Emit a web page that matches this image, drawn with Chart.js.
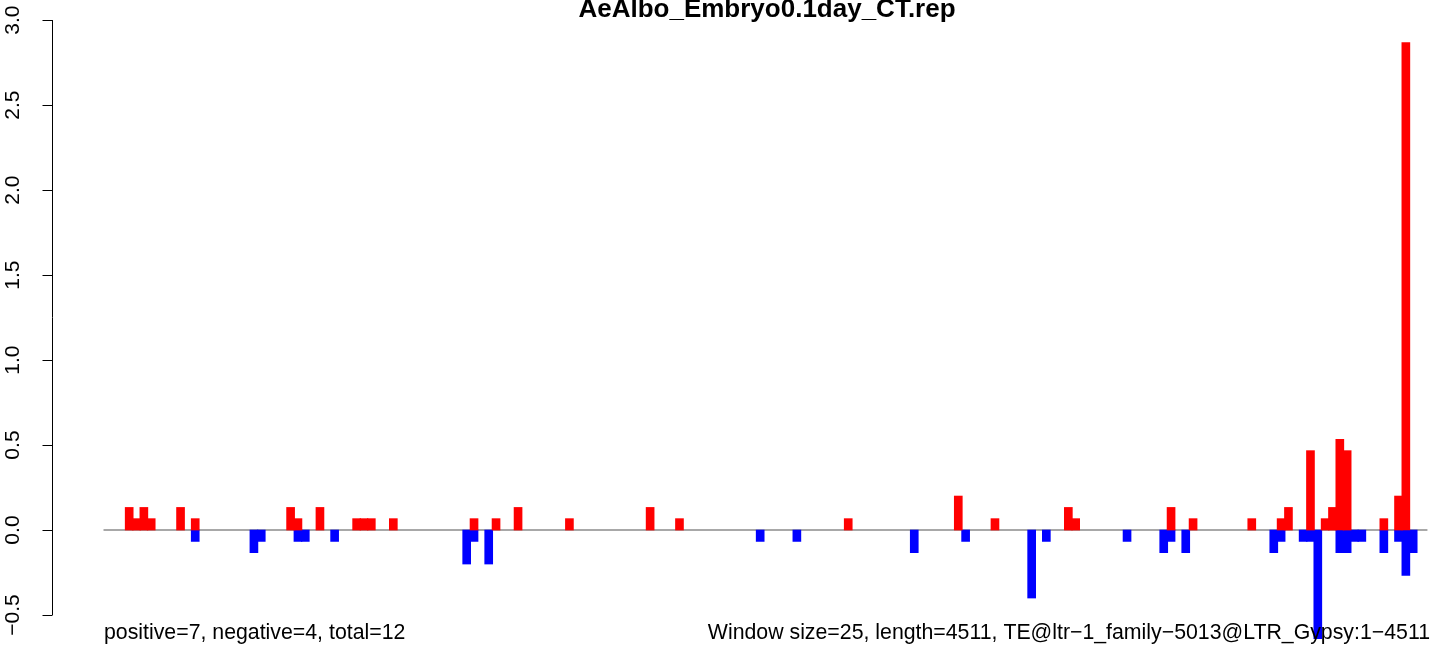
<!DOCTYPE html>
<html>
<head>
<meta charset="utf-8">
<script src="https://cdn.jsdelivr.net/npm/chart.js@4.4.1/dist/chart.umd.min.js"></script>
<style>
  html, body { margin: 0; padding: 0; background: #fff; overflow: hidden; }
  #cnv { display: block; }
</style>
</head>
<body>
<canvas id="cnv" width="1433" height="645"></canvas>
<script>
  // window data, 25bp windows over the 4511bp TE
  var windowSize = 25;
  var seqLength = 4511;
  var titleText = 'AeAlbo_Embryo0.1day_CT.rep';
  var leftNote = 'positive=7, negative=4, total=12';
  var rightNote = 'Window size=25, length=4511, TE@ltr\u22121_family\u22125013@LTR_Gypsy:1\u22124511';
  var yTicks = [-0.5, 0, 0.5, 1.0, 1.5, 2.0, 2.5, 3.0];

  // positive strand (red)
  var posBins = [3, 4, 5, 6, 10, 12, 25, 26, 29, 34, 35, 36, 39, 50, 53, 56, 63, 74, 78, 101,
    116, 121, 131, 132, 145, 148, 156, 160, 161, 164, 166, 167, 168, 169, 174, 176, 177];
  var posValues = [0.133, 0.067, 0.133, 0.067, 0.133, 0.067, 0.133, 0.067, 0.133, 0.067, 0.067, 0.067, 0.067, 0.067, 0.067, 0.133, 0.067, 0.133, 0.067, 0.067,
    0.2, 0.067, 0.133, 0.067, 0.133, 0.067, 0.067, 0.067, 0.133, 0.467, 0.067, 0.133, 0.533, 0.467, 0.067, 0.2, 2.867];

  // negative strand (blue)
  var negBins = [12, 20, 21, 26, 27, 31, 49, 50, 52, 89, 94, 110, 117, 126, 128, 139,
    144, 145, 147, 159, 160, 163, 164, 165, 168, 169, 170, 171, 174, 176, 177, 178];
  var negValues = [-0.067, -0.133, -0.067, -0.067, -0.067, -0.067, -0.2, -0.067, -0.2, -0.067, -0.067, -0.133, -0.067, -0.4, -0.067, -0.067,
    -0.133, -0.067, -0.133, -0.133, -0.067, -0.067, -0.067, -0.667, -0.133, -0.133, -0.067, -0.067, -0.133, -0.067, -0.267, -0.133];

  function toPoints(bins, vals) {
    var out = [];
    for (var i = 0; i < bins.length; i++) {
      out.push({ x: bins[i] + 0.5, y: vals[i] });
    }
    return out;
  }

  var FONT = '"Liberation Sans", Arial, Helvetica, sans-serif';

  var rStyle = {
    id: 'rStyle',
    beforeDatasetsDraw: function(chart) {
      var ctx = chart.ctx, xs = chart.scales.x, ys = chart.scales.y;
      var y0 = ys.getPixelForValue(0);
      ctx.save();
      ctx.strokeStyle = '#a8a8a8';
      ctx.lineWidth = 2;
      ctx.beginPath();
      ctx.moveTo(xs.getPixelForValue(0), y0);
      ctx.lineTo(xs.getPixelForValue(seqLength / windowSize), y0);
      ctx.stroke();
      ctx.restore();
    },
    afterDraw: function(chart) {
      var ctx = chart.ctx, ys = chart.scales.y;
      var ax = 52.5;
      ctx.save();
      // y axis
      ctx.strokeStyle = '#000';
      ctx.lineWidth = 1;
      ctx.beginPath();
      ctx.moveTo(ax, ys.getPixelForValue(yTicks[0]));
      ctx.lineTo(ax, ys.getPixelForValue(yTicks[yTicks.length - 1]));
      for (var i = 0; i < yTicks.length; i++) {
        var py = Math.round(ys.getPixelForValue(yTicks[i])) + 0.5;
        ctx.moveTo(ax, py);
        ctx.lineTo(ax - 10, py);
      }
      ctx.stroke();
      ctx.fillStyle = '#000';
      ctx.font = '21px ' + FONT;
      ctx.textAlign = 'center';
      ctx.textBaseline = 'middle';
      for (var j = 0; j < yTicks.length; j++) {
        var lab = yTicks[j].toFixed(1).replace('-', '\u2212');
        ctx.save();
        ctx.translate(13, ys.getPixelForValue(yTicks[j]));
        ctx.rotate(-Math.PI / 2);
        ctx.fillText(lab, 0, 0);
        ctx.restore();
      }
      // title
      ctx.font = 'bold 26px ' + FONT;
      ctx.fillText(titleText, 767, 10);
      // notes under the plot
      ctx.font = '21.3px ' + FONT;
      ctx.textAlign = 'left';
      ctx.fillText(leftNote, 104, 633);
      ctx.textAlign = 'right';
      ctx.fillText(rightNote, 1430, 633);
      ctx.restore();
    }
  };

  var chart = new Chart(document.getElementById('cnv').getContext('2d'), {
    type: 'bar',
    data: {
      datasets: [
        { data: toPoints(posBins, posValues), backgroundColor: '#ff0000', borderWidth: 0, grouped: false, barThickness: 8 },
        { data: toPoints(negBins, negValues), backgroundColor: '#0000ff', borderWidth: 0, grouped: false, barThickness: 8 }
      ]
    },
    options: {
      responsive: false,
      animation: false,
      layout: { padding: { left: 52, right: 0, top: 0, bottom: 6 } },
      plugins: { legend: { display: false }, tooltip: { enabled: false }, title: { display: false } },
      scales: {
        x: { type: 'linear', min: -7.02, max: 181.2, offset: false, display: false, grid: { display: false } },
        y: { min: -0.641, max: 3.118, display: false, grid: { display: false } }
      }
    },
    plugins: [rStyle]
  });
</script>
</body>
</html>
